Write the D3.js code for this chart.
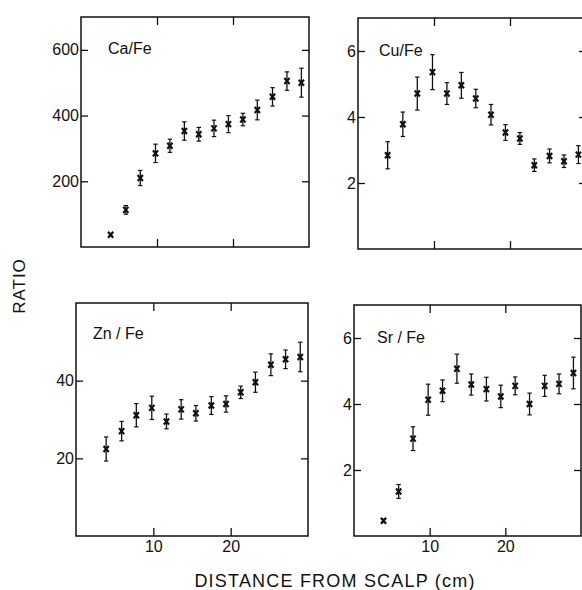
<!DOCTYPE html>
<html><head><meta charset="utf-8">
<script src="https://cdn.jsdelivr.net/npm/d3@7"></script>
<style>
body{margin:0;background:#fff}
svg{display:block}
text{font-family:"Liberation Sans",Arial,sans-serif;fill:#111}
</style>
</head><body>
<svg id="c" width="582" height="590"></svg>
<script>
// distance from scalp (cm)
const distance = [3.9, 5.9, 7.8, 9.8, 11.7, 13.6, 15.5, 17.5, 19.4, 21.3, 23.2, 25.2, 27.1, 29.0];
const caFe  = [37, 113, 210, 285, 308, 353, 343, 361, 374, 388, 417, 457, 505, 500];
const caErr = [4, 13, 23, 28, 20, 28, 21, 25, 26, 19, 30, 28, 28, 44];
const cuFe  = [2.84, 3.78, 4.71, 5.36, 4.71, 4.96, 4.56, 4.07, 3.53, 3.35, 2.54, 2.82, 2.66, 2.86];
const cuErr = [0.41, 0.37, 0.50, 0.53, 0.33, 0.39, 0.28, 0.31, 0.24, 0.18, 0.19, 0.21, 0.19, 0.27];
const znFe  = [22.4, 27.0, 31.1, 33.0, 29.5, 32.6, 31.6, 33.6, 34.0, 37.0, 39.6, 44.1, 45.5, 46.1];
const znErr = [3.1, 2.5, 3.0, 3.0, 1.9, 2.5, 2.0, 2.3, 2.1, 1.6, 2.6, 2.8, 2.4, 3.8];
const srFe  = [0.46, 1.35, 2.95, 4.13, 4.40, 5.07, 4.59, 4.45, 4.23, 4.55, 4.00, 4.55, 4.61, 4.94];
const srErr = [0.05, 0.21, 0.36, 0.47, 0.33, 0.44, 0.32, 0.36, 0.34, 0.27, 0.33, 0.32, 0.30, 0.48];
const xTicks  = [10, 20];
const caTicks = [200, 400, 600];
const cuTicks = [2, 4, 6];
const znTicks = [20, 40];
const srTicks = [2, 4, 6];
const xTitle = "DISTANCE FROM SCALP (cm)";
const yTitle = "RATIO";

const panels = [
  {label:"Ca/Fe",   values:caFe, errors:caErr, yMax:700, yTicks:caTicks, left:81,  top:17,  w:228, h:230, lx:108, ly:54,  bottom:false},
  {label:"Cu/Fe",   values:cuFe, errors:cuErr, yMax:7,   yTicks:cuTicks, left:358, top:18,  w:228, h:231, lx:379, ly:56,  bottom:false},
  {label:"Zn / Fe", values:znFe, errors:znErr, yMax:60,  yTicks:znTicks, left:76,  top:303, w:232, h:233, lx:93,  ly:339, bottom:true},
  {label:"Sr / Fe", values:srFe, errors:srErr, yMax:7,   yTicks:srTicks, left:354, top:305, w:227, h:231, lx:377, ly:343, bottom:true}
];

const svg = d3.select("#c");
const fmt = d3.format("d");

panels.forEach(p => {
  const g = svg.append("g").attr("transform", `translate(${p.left},${p.top})`);
  const x = d3.scaleLinear().domain([0, 30]).range([0, p.w]);
  const y = d3.scaleLinear().domain([0, p.yMax]).range([p.h, 0]);

  const styleAxis = sel => {
    sel.select(".domain").remove();
    sel.selectAll("line").attr("stroke", "#111").attr("stroke-width", 1.3);
    sel.selectAll("text").attr("font-size", 16).attr("fill", "#111");
  };

  g.append("g").call(d3.axisLeft(y).tickValues(p.yTicks).tickFormat(fmt).tickSize(-7).tickPadding(2)).call(styleAxis);
  g.append("g").attr("transform", `translate(${p.w},0)`)
    .call(d3.axisRight(y).tickValues(p.yTicks).tickSize(-7).tickFormat("")).call(styleAxis);
  g.append("g").call(d3.axisTop(x).tickValues(xTicks).tickSize(-8).tickFormat("")).call(styleAxis);
  const bx = d3.axisBottom(x).tickValues(xTicks).tickSize(-8).tickPadding(5).tickFormat(p.bottom ? fmt : "");
  g.append("g").attr("transform", `translate(0,${p.h})`).call(bx).call(styleAxis);

  g.append("rect").attr("x", 0).attr("y", 0).attr("width", p.w).attr("height", p.h)
    .attr("fill", "none").attr("stroke", "#111").attr("stroke-width", 1.5);

  svg.append("text").attr("x", p.lx).attr("y", p.ly).attr("font-size", 16).text(p.label);

  const pts = distance.map((d, i) => ({d, v: p.values[i], e: p.errors[i]}));
  const pt = g.selectAll(".pt").data(pts).enter().append("g")
    .attr("transform", d => `translate(${x(d.d)},0)`);
  pt.append("line").attr("x1", 0).attr("x2", 0)
    .attr("y1", d => y(d.v + d.e)).attr("y2", d => y(d.v - d.e))
    .attr("stroke", "#111").attr("stroke-width", 1.3);
  pt.append("line").attr("x1", -2.2).attr("x2", 2.2)
    .attr("y1", d => y(d.v + d.e)).attr("y2", d => y(d.v + d.e))
    .attr("stroke", "#111").attr("stroke-width", 1.2);
  pt.append("line").attr("x1", -2.2).attr("x2", 2.2)
    .attr("y1", d => y(d.v - d.e)).attr("y2", d => y(d.v - d.e))
    .attr("stroke", "#111").attr("stroke-width", 1.2);
  pt.append("path")
    .attr("d", d => { const c = y(d.v); return `M-2.6,${c-3}L2.6,${c+3}M2.6,${c-3}L-2.6,${c+3}`; })
    .attr("stroke", "#111").attr("stroke-width", 2.2).attr("fill", "none");
});

svg.append("text").attr("x", 335).attr("y", 587).attr("text-anchor", "middle")
  .attr("font-size", 18).attr("letter-spacing", 1.2).text(xTitle);
svg.append("text").attr("transform", "translate(25,286) rotate(-90)").attr("text-anchor", "middle")
  .attr("font-size", 17).attr("letter-spacing", 1).text(yTitle);
</script>
</body></html>
